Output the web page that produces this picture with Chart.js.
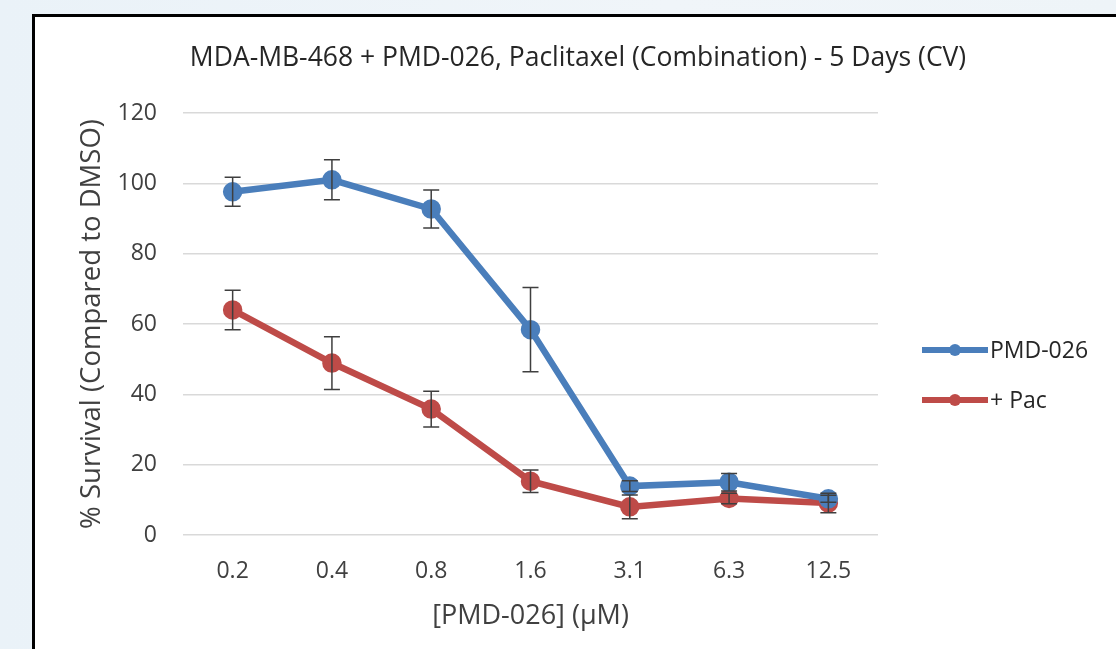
<!DOCTYPE html>
<html>
<head>
<meta charset="utf-8">
<script src="https://cdn.jsdelivr.net/npm/chart.js@4"></script>
<style>
  html, body { margin: 0; padding: 0; }
  body { width: 1116px; height: 649px; overflow: hidden; position: relative;
         background: linear-gradient(90deg, #eaf2f8 0%, #f0f5f9 60%, #eef4f8 100%); }
  #box { position: absolute; left: 32px; top: 14px; width: 1100px; height: 660px;
         border: 3px solid #000; background: #fff; }
  #chart { position: absolute; left: 0; top: 0; }
</style>
</head>
<body>
<div id="box"></div>
<canvas id="chart" width="1116" height="649"></canvas>
<script>
const chartTitle = "MDA-MB-468 + PMD-026, Paclitaxel (Combination) - 5 Days (CV)";
const doses = ["0.2", "0.4", "0.8", "1.6", "3.1", "6.3", "12.5"];
const pmdValues = [97.6, 101, 92.7, 58.4, 13.9, 15, 10.3];
const pmdErrors = [4.1, 5.7, 5.4, 12, 1.5, 2.5, 1];
const pacValues = [64, 48.9, 35.8, 15.3, 8, 10.4, 9.1];
const pacErrors = [5.6, 7.5, 5.1, 3.2, 3.4, 1.5, 2.8];
const yTicks = [0, 20, 40, 60, 80, 100, 120];

const FONT = "'Open Sans'";
const blue = "#4a7ebb";
const red = "#be4b48";

// error bars drawn through the chart scales
const errorBars = {
  id: "errorBars",
  afterDatasetsDraw(chart) {
    const ctx = chart.ctx;
    const x = chart.scales.x, y = chart.scales.y;
    const sets = [[pmdValues, pmdErrors], [pacValues, pacErrors]];
    ctx.save();
    ctx.strokeStyle = "#3f3f3f";
    ctx.lineWidth = 1.5;
    sets.forEach(([vals, errs]) => {
      vals.forEach((v, i) => {
        const px = x.getPixelForValue(i);
        const top = y.getPixelForValue(v + errs[i]);
        const bot = y.getPixelForValue(v - errs[i]);
        ctx.beginPath();
        ctx.moveTo(px, top); ctx.lineTo(px, bot);
        ctx.moveTo(px - 8, top); ctx.lineTo(px + 8, top);
        ctx.moveTo(px - 8, bot); ctx.lineTo(px + 8, bot);
        ctx.stroke();
      });
    });
    ctx.restore();
  }
};

// title and legend placed like the original
const decorations = {
  id: "decorations",
  afterDraw(chart) {
    const ctx = chart.ctx;
    ctx.save();
    ctx.fillStyle = "#262626";
    ctx.font = "26.5px " + FONT;
    ctx.textAlign = "center";
    ctx.textBaseline = "middle";
    ctx.fillText(chartTitle, 578, 58);

    ctx.font = "23px " + FONT;
    ctx.textAlign = "left";
    chart.data.datasets.forEach((ds, i) => {
      const ly = 350 + i * 50;
      ctx.strokeStyle = ds.borderColor;
      ctx.lineWidth = 6;
      ctx.beginPath();
      ctx.moveTo(922, ly); ctx.lineTo(988, ly);
      ctx.stroke();
      ctx.fillStyle = ds.borderColor;
      ctx.beginPath();
      ctx.arc(955, ly, 6, 0, Math.PI * 2);
      ctx.fill();
      ctx.fillStyle = "#262626";
      ctx.fillText(ds.label, 990, ly + 1);
    });
    ctx.restore();
  }
};

new Chart(document.getElementById("chart"), {
  type: "line",
  data: {
    labels: doses,
    datasets: [
      { label: "PMD-026", data: pmdValues, borderColor: blue, backgroundColor: blue,
        borderWidth: 6.5, pointRadius: 6.5, pointHoverRadius: 6.5 },
      { label: "+ Pac", data: pacValues, borderColor: red, backgroundColor: red,
        borderWidth: 6.5, pointRadius: 6.5, pointHoverRadius: 6.5 }
    ]
  },
  options: {
    responsive: false,
    animation: false,
    layout: { padding: { left: 60, top: 113, right: 238, bottom: 0 } },
    plugins: { legend: { display: false }, title: { display: false }, tooltip: { enabled: false } },
    scales: {
      x: {
        offset: true,
        grid: { display: false, drawTicks: false },
        border: { display: false },
        ticks: { color: "#404040", font: { family: FONT, size: 23 }, padding: 23 },
        title: { display: true, text: "[PMD-026] (µM)", color: "#404040",
                 font: { family: FONT, size: 27 }, padding: { top: 0, bottom: 16 } },
        afterFit(scale) { scale.height = 114; }
      },
      y: {
        min: 0, max: 120,
        afterBuildTicks(scale) { scale.ticks = yTicks.map(v => ({ value: v })); },
        grid: { color: "#d9d9d9", lineWidth: 1.5, drawTicks: false },
        border: { display: false },
        ticks: { color: "#404040", font: { family: FONT, size: 23 }, padding: 26 },
        title: { display: true, text: "% Survival (Compared to DMSO)", color: "#404040",
                 font: { family: FONT, size: 27.5 }, padding: { top: 16, bottom: 0 } },
        afterFit(scale) { scale.width = 123; }
      }
    }
  },
  plugins: [errorBars, decorations]
});
</script>
</body>
</html>
